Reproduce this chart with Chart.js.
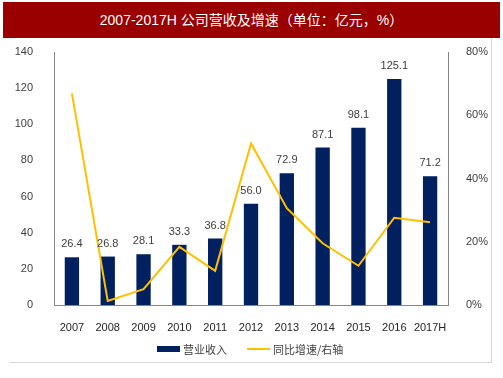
<!DOCTYPE html>
<html><head><meta charset="utf-8">
<script src="https://cdn.jsdelivr.net/npm/chart.js@4"></script>
<style>
html,body{margin:0;padding:0;background:#fff;}
#wrap{position:relative;width:503px;height:378px;overflow:hidden;}
#frame{position:absolute;left:10px;top:30px;width:481px;height:332px;border-right:1px solid #d9d9d9;border-bottom:1px solid #d9d9d9;}
#title{position:absolute;left:3px;top:2px;width:497px;height:36px;background:#9a0000;color:#fff;font-weight:normal;font-size:14px;font-family:"Liberation Sans Narrow","Liberation Sans","Noto Sans CJK SC",sans-serif;line-height:36px;text-align:center;}
canvas{position:absolute;left:0;top:0;}
#legend{position:absolute;top:341px;left:0;width:503px;height:16px;font:11px "Noto Sans CJK SC",sans-serif;color:#404040;}
.sw{position:absolute;}
.lt{position:absolute;top:0;line-height:16px;white-space:nowrap;}
</style></head>
<body>
<div id="wrap">
<div id="frame"></div>
<canvas id="c" width="503" height="378"></canvas>
<div id="title">2007-2017H 公司营收及增速（单位：亿元，%）</div>
<div id="legend">
  <div class="sw" style="left:157px;top:5px;width:23px;height:6px;background:#002060;"></div>
  <div class="lt" style="left:183px;">营业收入</div>
  <div class="sw" style="left:247px;top:7px;width:23px;height:2px;background:#ffc000;"></div>
  <div class="lt" style="left:273px;">同比增速/右轴</div>
</div>
</div>
<script>
const categories = ["2007","2008","2009","2010","2011","2012","2013","2014","2015","2016","2017H"];
const revenue = [26.4,26.8,28.1,33.3,36.8,56.0,72.9,87.1,98.1,125.1,71.2];
const growth = [66.9,1.3,5.0,18.4,10.8,51.1,30.6,19.5,12.4,27.6,26.2];
const revenueLabel = "营业收入";
const growthLabel = "同比增速/右轴";

const labelPlugin = {
  id:'barLabels',
  afterDatasetsDraw(chart){
    const ctx = chart.ctx;
    const meta = chart.getDatasetMeta(0);
    ctx.save();
    ctx.font = '11px "Liberation Sans", Arial, sans-serif';
    ctx.fillStyle = '#404040';
    ctx.textAlign = 'center';
    ctx.textBaseline = 'middle';
    meta.data.forEach((el,i)=>{
      ctx.fillText(revenue[i].toFixed(1), el.x, el.y - 13);
    });
    ctx.restore();
  }
};

const tickFont = {family:'"Liberation Sans", Arial, sans-serif', size:11};
new Chart(document.getElementById('c'), {
  data:{
    labels:categories,
    datasets:[
      {type:'bar',label:revenueLabel,data:revenue,backgroundColor:'#002060',yAxisID:'y',order:1,barPercentage:0.4,categoryPercentage:1},
      {type:'line',label:growthLabel,data:growth,borderColor:'#ffc000',borderWidth:2,pointRadius:0,tension:0,yAxisID:'y1',order:0,fill:false}
    ]
  },
  options:{
    responsive:false,animation:false,devicePixelRatio:1,
    layout:{padding:{top:52,left:0,right:0,bottom:0}},
    plugins:{legend:{display:false},tooltip:{enabled:false}},
    scales:{
      x:{grid:{display:false},border:{display:true,color:'#868686',width:1},
         ticks:{color:'#262626',font:tickFont,padding:8,maxRotation:0,autoSkip:false},
         afterFit(s){s.height=73;}},
      y:{position:'left',min:0,max:140,grid:{display:false},border:{display:true,color:'#868686',width:1},
         ticks:{stepSize:20,color:'#404040',font:tickFont,padding:13},
         afterFit(s){s.width=54;}},
      y1:{position:'right',min:0,max:80,grid:{display:false},border:{display:true,color:'#868686',width:1},
         ticks:{stepSize:20,color:'#404040',font:tickFont,padding:10,callback:v=>v+'%'},
         afterFit(s){s.width=55;}}
    }
  },
  plugins:[labelPlugin]
});
</script>
</body></html>
